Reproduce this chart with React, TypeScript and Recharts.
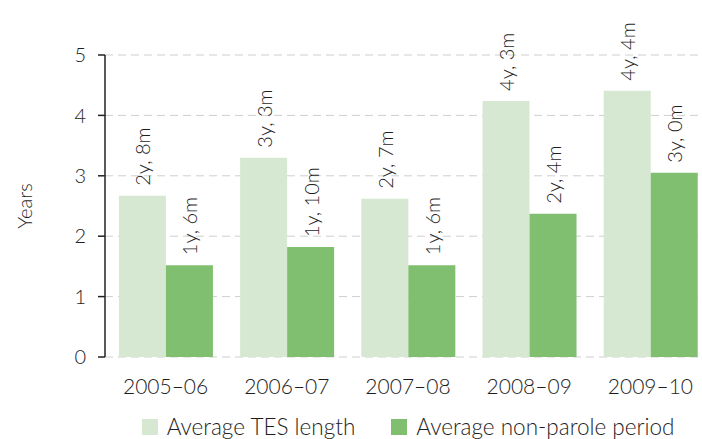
import { BarChart, Bar, XAxis, YAxis, CartesianGrid, Legend, LabelList, Label } from 'recharts';

const categories = ['2005–06', '2006–07', '2007–08', '2008–09', '2009–10'];
const tesYears = [2.67, 3.3, 2.62, 4.24, 4.41];
const nonParoleYears = [1.52, 1.82, 1.52, 2.37, 3.05];
const tesLabels = ['2y, 8m', '3y, 3m', '2y, 7m', '4y, 3m', '4y, 4m'];
const nonParoleLabels = ['1y, 6m', '1y, 10m', '1y, 6m', '2y, 4m', '3y, 0m'];
const yTicks = [0, 1, 2, 3, 4, 5];
const edgeTicks = [0, 1, 2, 3, 4, 5];

const FONT = 'Lato, "DejaVu Sans", sans-serif';
const WEIGHT = 300;
const TEXT = '#1e1e1e';
const LIGHT = '#d6e8d1';
const DARK = '#7fbf6f';

const data = categories.map((period, i) => ({
  period,
  tes: tesYears[i],
  nonParole: nonParoleYears[i],
  tesLabel: tesLabels[i],
  nonParoleLabel: nonParoleLabels[i],
}));

// rotated value label sitting just above the bar
const BarLabel = (props: any) => {
  const { x, y, width, value } = props;
  const cx = Number(x) + Number(width) / 2;
  const cy = Number(y) - 10;
  return (
    <text
      x={cx}
      y={cy}
      transform={`rotate(-90, ${cx}, ${cy})`}
      textAnchor="start"
      dominantBaseline="central"
      fontSize={20}
      fontWeight={WEIGHT}
      fontFamily={FONT}
      fill={TEXT}
    >
      {value}
    </text>
  );
};

const YearsLabel = (props: any) => {
  const { viewBox } = props;
  const cx = viewBox.x + 24;
  const cy = viewBox.y + viewBox.height / 2;
  return (
    <text
      x={cx}
      y={cy}
      transform={`rotate(-90, ${cx}, ${cy})`}
      textAnchor="middle"
      dominantBaseline="central"
      fontSize={20}
      fontWeight={WEIGHT}
      fontFamily={FONT}
      fill={TEXT}
    >
      Years
    </text>
  );
};

const LegendContent = (props: any) => {
  const { payload } = props;
  return (
    <div
      style={{
        display: 'flex',
        justifyContent: 'center',
        alignItems: 'center',
        gap: 36,
        height: 32,
        paddingTop: 7,
        boxSizing: 'border-box',
        fontFamily: FONT,
        fontWeight: WEIGHT,
        fontSize: 22.5,
        color: TEXT,
      }}
    >
      {(payload || []).map((entry: any) => (
        <div key={entry.value} style={{ display: 'flex', alignItems: 'center', gap: 9 }}>
          <span style={{ width: 16, height: 16, background: entry.color, display: 'inline-block' }} />
          <span>{entry.value}</span>
        </div>
      ))}
    </div>
  );
};

export default function App() {
  return (
    <div
      style={{
        position: 'absolute',
        left: 0,
        top: 0,
        width: 702,
        height: 439,
        overflow: 'hidden',
        background: '#fff',
      }}
    >
      <BarChart
        width={721}
        height={439}
        data={data}
        margin={{ top: 55, right: 10, left: 0, bottom: 0 }}
        barCategoryGap="11.5%"
        barGap={0}
      >
        <CartesianGrid
          xAxisId="edge"
          vertical={false}
          stroke="#cfcfcf"
          strokeDasharray="8 5"
        />
        <XAxis
          xAxisId="edge"
          type="number"
          domain={[0, 5]}
          ticks={edgeTicks}
          interval={0}
          allowDataOverflow
          height={0}
          tickSize={7}
          tickFormatter={() => ''}
          axisLine={{ stroke: '#222', strokeWidth: 1.5 }}
          tickLine={{ stroke: '#222', strokeWidth: 1.5 }}
        />
        <XAxis
          xAxisId="cat"
          dataKey="period"
          height={50}
          axisLine={false}
          tickLine={false}
          tickSize={0}
          tickMargin={22}
          interval={0}
          tick={{ fontSize: 21, fontFamily: FONT, fontWeight: WEIGHT, fill: TEXT }}
        />
        <YAxis
          width={105}
          domain={[0, 5]}
          ticks={yTicks}
          interval={0}
          tickSize={7}
          tickMargin={12}
          axisLine={{ stroke: '#222', strokeWidth: 1.5 }}
          tickLine={{ stroke: '#222', strokeWidth: 1.5 }}
          tick={{ fontSize: 20, fontFamily: FONT, fontWeight: WEIGHT, fill: TEXT }}
        >
          <Label content={<YearsLabel />} />
        </YAxis>
        <Legend
          verticalAlign="bottom"
          height={32}
          wrapperStyle={{ left: 105, width: 606 }}
          content={<LegendContent />}
        />
        <Bar xAxisId="cat" dataKey="tes" name="Average TES length" fill={LIGHT} isAnimationActive={false}>
          <LabelList dataKey="tesLabel" content={<BarLabel />} />
        </Bar>
        <Bar xAxisId="cat" dataKey="nonParole" name="Average non-parole period" fill={DARK} isAnimationActive={false}>
          <LabelList dataKey="nonParoleLabel" content={<BarLabel />} />
        </Bar>
      </BarChart>
    </div>
  );
}
